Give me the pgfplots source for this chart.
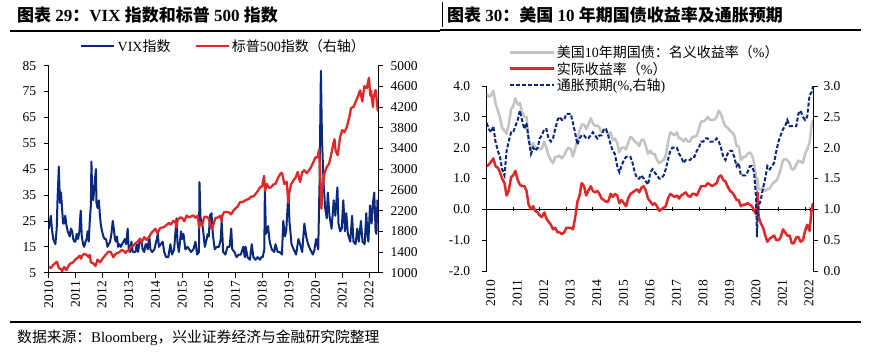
\documentclass[border=0pt]{standalone}
\usepackage{fontspec}
\setmainfont{Liberation Serif}
\newfontfamily\cjk{Noto Sans CJK SC}
\usepackage{pgfplots}
\pgfplotsset{compat=1.18}
\usepackage{pgfplotstable}
\definecolor{vixblue}{RGB}{10,40,125}
\definecolor{spred}{RGB}{225,40,40}
\definecolor{nomgray}{RGB}{195,195,195}
\newcommand{\zh}[1]{{\cjk #1}}

\pgfplotstableread{
x y
2010.00 22
2010.04 24
2010.08 27
2010.12 22
2010.17 18
2010.21 17
2010.25 16
2010.30 22
2010.33 33
2010.38 46
2010.42 32
2010.46 36
2010.50 30
2010.54 24
2010.58 24
2010.62 27
2010.67 23
2010.71 21
2010.75 20
2010.79 19
2010.83 22
2010.88 21
2010.92 18
2010.96 17
2011.00 17
2011.05 20
2011.10 18
2011.15 21
2011.20 29
2011.24 19
2011.29 16
2011.33 15
2011.38 17
2011.42 18
2011.46 21
2011.50 17
2011.54 25
2011.58 31
2011.60 48
2011.63 36
2011.67 33
2011.71 38
2011.75 43
2011.77 45
2011.79 32
2011.83 30
2011.88 33
2011.92 27
2011.96 23
2012.00 21
2012.05 19
2012.10 18
2012.15 18
2012.20 15
2012.25 16
2012.30 17
2012.35 20
2012.40 25
2012.44 22
2012.48 18
2012.52 17
2012.56 19
2012.60 15
2012.65 16
2012.70 15
2012.75 16
2012.80 17
2012.85 18
2012.90 16
2012.96 22
2013.00 14
2013.05 13
2013.10 17
2013.15 13
2013.20 13
2013.25 13
2013.30 16
2013.35 13
2013.42 18
2013.48 17
2013.52 14
2013.58 13
2013.63 16
2013.67 16
2013.71 14
2013.77 19
2013.81 14
2013.88 13
2013.96 14
2014.05 18
2014.09 20
2014.13 15
2014.20 16
2014.27 17
2014.33 13
2014.40 11
2014.48 11
2014.56 16
2014.62 12
2014.70 14
2014.79 26
2014.83 16
2014.88 13
2014.96 21
2015.00 18
2015.05 20
2015.12 14
2015.20 15
2015.27 14
2015.33 13
2015.42 14
2015.50 17
2015.56 12
2015.63 13
2015.65 40
2015.69 26
2015.75 24
2015.79 21
2015.85 15
2015.92 18
2015.96 20
2016.00 19
2016.04 27
2016.10 28
2016.15 20
2016.22 14
2016.30 15
2016.38 15
2016.45 18
2016.48 25
2016.54 13
2016.62 12
2016.70 15
2016.78 15
2016.84 22
2016.88 14
2016.96 13
2017.04 11
2017.12 12
2017.20 12
2017.29 15
2017.35 11
2017.38 15
2017.45 11
2017.54 10
2017.61 16
2017.67 11
2017.75 10
2017.83 11
2017.92 10
2017.96 11
2018.02 11
2018.08 14
2018.10 37
2018.14 20
2018.22 23
2018.28 17
2018.36 14
2018.45 13
2018.50 16
2018.58 13
2018.66 13
2018.74 12
2018.79 25
2018.85 19
2018.90 21
2018.95 30
2018.98 36
2019.02 25
2019.10 16
2019.18 14
2019.27 12
2019.36 18
2019.42 16
2019.50 13
2019.58 24
2019.65 19
2019.72 16
2019.80 14
2019.90 12
2019.96 14
2020.02 18
2020.10 14
2020.15 40
2020.20 83
2020.24 57
2020.30 40
2020.36 30
2020.42 26
2020.46 36
2020.52 27
2020.60 22
2020.68 33
2020.74 27
2020.82 38
2020.86 24
2020.92 21
2020.98 22
2021.04 33
2021.10 21
2021.15 28
2021.21 20
2021.30 17
2021.37 27
2021.42 17
2021.50 16
2021.56 22
2021.62 17
2021.70 25
2021.76 17
2021.84 16
2021.90 28
2021.95 19
2021.98 17
2022.04 31
2022.10 24
2022.15 32
2022.20 36
2022.25 21
2022.28 20
2022.32 33
2022.35 30
}\vixdata

\pgfplotstableread{
x y
2010.00 1115
2010.08 1090
2010.17 1150
2010.25 1187
2010.31 1210
2010.38 1090
2010.46 1070
2010.50 1030
2010.58 1110
2010.67 1050
2010.75 1141
2010.83 1183
2010.92 1200
2011.00 1258
2011.08 1286
2011.17 1330
2011.21 1270
2011.25 1326
2011.33 1363
2011.42 1345
2011.50 1300
2011.54 1345
2011.58 1200
2011.67 1180
2011.75 1131
2011.83 1253
2011.92 1200
2012.00 1258
2012.08 1312
2012.17 1366
2012.25 1408
2012.33 1398
2012.42 1300
2012.50 1362
2012.58 1379
2012.67 1407
2012.75 1441
2012.83 1412
2012.88 1380
2012.92 1416
2013.00 1426
2013.08 1498
2013.17 1515
2013.25 1569
2013.33 1598
2013.42 1660
2013.48 1580
2013.50 1606
2013.58 1686
2013.67 1633
2013.75 1682
2013.83 1757
2013.92 1806
2014.00 1848
2014.08 1760
2014.17 1859
2014.25 1872
2014.33 1884
2014.42 1924
2014.50 1960
2014.58 1931
2014.67 2003
2014.75 1972
2014.79 1870
2014.83 2018
2014.92 2068
2015.00 2059
2015.08 1995
2015.17 2105
2015.25 2068
2015.33 2086
2015.42 2107
2015.50 2063
2015.58 2104
2015.64 1870
2015.67 1972
2015.75 1920
2015.83 2079
2015.92 2080
2016.00 2044
2016.08 1880
2016.12 1840
2016.17 1932
2016.25 2060
2016.33 2065
2016.42 2097
2016.48 2000
2016.50 2099
2016.58 2174
2016.67 2171
2016.75 2168
2016.83 2126
2016.92 2199
2017.00 2239
2017.08 2279
2017.17 2364
2017.25 2363
2017.33 2384
2017.42 2412
2017.50 2423
2017.58 2470
2017.67 2472
2017.75 2519
2017.83 2575
2017.92 2648
2018.00 2674
2018.07 2870
2018.11 2580
2018.17 2714
2018.25 2641
2018.33 2648
2018.42 2705
2018.50 2718
2018.58 2816
2018.67 2902
2018.72 2930
2018.75 2914
2018.83 2712
2018.92 2760
2018.98 2350
2019.00 2507
2019.08 2704
2019.17 2784
2019.25 2834
2019.33 2946
2019.42 2752
2019.50 2942
2019.58 2980
2019.67 2926
2019.75 2977
2019.83 3038
2019.92 3141
2020.00 3231
2020.08 3226
2020.13 3380
2020.17 2954
2020.22 2237
2020.25 2585
2020.33 2912
2020.42 3044
2020.50 3100
2020.58 3271
2020.67 3500
2020.71 3580
2020.75 3363
2020.83 3270
2020.92 3622
2021.00 3756
2021.08 3714
2021.17 3811
2021.25 3973
2021.33 4181
2021.42 4204
2021.50 4298
2021.58 4395
2021.67 4523
2021.75 4308
2021.83 4605
2021.92 4567
2022.00 4766
2022.05 4420
2022.08 4516
2022.15 4200
2022.17 4374
2022.25 4530
2022.30 4300
2022.33 4132
2022.36 4150
}\spxdata

\pgfplotstableread{
x nom real be
2010.00 3.75 1.40 2.40
2010.08 3.65 1.45 2.30
2010.17 3.70 1.55 2.25
2010.25 3.85 1.65 2.35
2010.33 3.45 1.40 2.10
2010.42 3.20 1.35 1.95
2010.50 3.00 1.20 1.85
2010.58 2.65 1.00 1.65
2010.67 2.55 0.85 1.55
2010.75 2.45 0.45 1.95
2010.83 2.75 0.60 2.10
2010.92 3.25 1.05 2.25
2011.00 3.35 1.10 2.25
2011.08 3.60 1.25 2.35
2011.17 3.40 0.95 2.45
2011.25 3.45 0.80 2.60
2011.33 3.15 0.75 2.45
2011.42 3.00 0.75 2.30
2011.50 3.00 0.60 2.40
2011.58 2.25 0.15 2.15
2011.67 1.95 0.00 1.90
2011.75 2.15 0.10 2.00
2011.83 2.00 -0.05 1.95
2011.92 1.95 -0.10 2.00
2012.00 1.95 -0.20 2.15
2012.08 1.98 -0.25 2.20
2012.17 2.20 -0.10 2.30
2012.25 2.00 -0.30 2.30
2012.33 1.75 -0.40 2.15
2012.42 1.60 -0.50 2.10
2012.50 1.50 -0.65 2.15
2012.58 1.70 -0.60 2.30
2012.67 1.70 -0.75 2.45
2012.75 1.75 -0.75 2.50
2012.83 1.65 -0.80 2.45
2012.92 1.75 -0.75 2.45
2013.00 1.90 -0.60 2.55
2013.08 2.00 -0.60 2.55
2013.17 1.95 -0.60 2.55
2013.25 1.72 -0.65 2.40
2013.33 1.95 -0.30 2.25
2013.42 2.25 0.25 2.05
2013.50 2.55 0.45 2.15
2013.58 2.75 0.85 2.20
2013.67 2.75 0.75 2.20
2013.75 2.60 0.45 2.15
2013.83 2.75 0.60 2.15
2013.92 2.95 0.75 2.20
2014.00 2.80 0.60 2.25
2014.08 2.70 0.55 2.20
2014.17 2.72 0.60 2.15
2014.25 2.65 0.50 2.20
2014.33 2.50 0.35 2.20
2014.42 2.60 0.30 2.30
2014.50 2.55 0.25 2.30
2014.58 2.40 0.25 2.20
2014.67 2.50 0.50 2.05
2014.75 2.25 0.40 1.95
2014.83 2.30 0.50 1.90
2014.92 2.15 0.45 1.70
2015.00 1.85 0.20 1.60
2015.08 2.00 0.30 1.70
2015.17 2.00 0.20 1.80
2015.25 1.95 0.10 1.85
2015.33 2.15 0.35 1.85
2015.42 2.35 0.50 1.85
2015.50 2.30 0.55 1.75
2015.58 2.20 0.60 1.60
2015.67 2.15 0.65 1.50
2015.75 2.05 0.55 1.50
2015.83 2.25 0.70 1.55
2015.92 2.25 0.75 1.50
2016.00 2.05 0.60 1.45
2016.08 1.80 0.35 1.40
2016.17 1.90 0.25 1.60
2016.25 1.80 0.15 1.65
2016.33 1.80 0.20 1.60
2016.42 1.60 0.10 1.55
2016.50 1.50 -0.05 1.50
2016.58 1.55 0.00 1.50
2016.67 1.60 0.05 1.55
2016.75 1.75 0.10 1.65
2016.83 2.15 0.35 1.80
2016.92 2.50 0.50 1.95
2017.00 2.45 0.45 2.00
2017.08 2.40 0.40 2.00
2017.17 2.50 0.45 2.00
2017.25 2.30 0.35 1.90
2017.33 2.30 0.45 1.85
2017.42 2.20 0.50 1.75
2017.50 2.30 0.55 1.80
2017.58 2.20 0.45 1.80
2017.67 2.20 0.40 1.80
2017.75 2.35 0.50 1.85
2017.83 2.35 0.50 1.85
2017.92 2.40 0.45 1.95
2018.00 2.60 0.60 2.00
2018.08 2.85 0.75 2.10
2018.17 2.85 0.75 2.10
2018.25 2.90 0.75 2.15
2018.33 3.00 0.85 2.15
2018.42 2.90 0.80 2.10
2018.50 2.90 0.75 2.10
2018.58 2.90 0.80 2.10
2018.67 3.00 0.85 2.15
2018.75 3.20 1.05 2.10
2018.83 3.10 1.10 2.00
2018.92 2.85 0.95 1.85
2019.00 2.70 0.90 1.80
2019.08 2.65 0.75 1.90
2019.17 2.55 0.60 1.95
2019.25 2.50 0.55 1.95
2019.33 2.40 0.45 1.85
2019.42 2.05 0.30 1.70
2019.50 2.05 0.30 1.75
2019.58 1.60 0.10 1.55
2019.67 1.70 0.15 1.55
2019.75 1.70 0.15 1.55
2019.83 1.80 0.20 1.60
2019.92 1.85 0.15 1.70
2020.00 1.75 0.10 1.70
2020.08 1.50 -0.05 1.60
2020.15 1.10 -0.15 1.20
2020.19 0.60 0.20 0.55
2020.21 1.00 0.55 0.90
2020.25 0.65 -0.25 1.05
2020.33 0.65 -0.45 1.15
2020.42 0.70 -0.60 1.35
2020.50 0.60 -0.85 1.50
2020.58 0.65 -1.05 1.70
2020.67 0.68 -0.95 1.65
2020.75 0.80 -0.90 1.70
2020.83 0.88 -0.85 1.75
2020.92 0.93 -1.00 1.95
2021.00 1.08 -1.00 2.10
2021.08 1.30 -0.90 2.20
2021.17 1.60 -0.65 2.30
2021.25 1.63 -0.75 2.35
2021.33 1.60 -0.85 2.45
2021.42 1.50 -0.85 2.35
2021.50 1.30 -1.10 2.35
2021.58 1.30 -1.10 2.35
2021.67 1.45 -0.90 2.35
2021.75 1.58 -0.90 2.55
2021.83 1.55 -1.05 2.60
2021.92 1.50 -1.00 2.50
2022.00 1.80 -0.70 2.45
2022.08 1.95 -0.50 2.50
2022.17 2.15 -0.70 2.85
2022.25 2.75 0.00 2.90
2022.30 2.90 0.20 3.00
}\ratedata

\pgfplotsset{
  base/.style={
    scale only axis, anchor=south west,
    xtick={2010,...,2022},
    tick style={black, line width=0.7pt},
    major tick length=5pt,
    tick align=outside,
    axis line style={black, line width=0.8pt, -},
    x axis line style={-}, y axis line style={-},
    ticklabel style={font=\fontsize{13.5}{14}\selectfont},
    /pgf/number format/assume math mode=true,
    /pgf/number format/1000 sep={},
    xticklabel style={rotate=90, anchor=east},
  },
}

\begin{document}
\begin{tikzpicture}[x=1pt,y=1pt]
\path[use as bounding box] (0,0) rectangle (873,351);
\fill[white] (0,0) rectangle (873,351);

% titles and rules
\node[anchor=west, inner sep=0pt, font=\fontsize{17}{18}\selectfont\bfseries] at (17,336)
  {\zh{图表} 29\zh{：}VIX \zh{指数和标普} 500 \zh{指数}};
\node[anchor=west, inner sep=0pt, font=\fontsize{17}{18}\selectfont\bfseries] at (447,336)
  {\zh{图表} 30\zh{：美国} 10 \zh{年期国债收益率及通胀预期}};
\draw[line width=1.2pt] (10,320) -- (440,320);
\draw[line width=1.2pt] (440,321) -- (861,321);
\draw[line width=1.2pt] (442.5,349) -- (442.5,324);
\draw[line width=1.2pt] (10,29) -- (861,29);
\node[anchor=west, inner sep=0pt, font=\fontsize{14.8}{16}\selectfont] at (17,13)
  {\zh{数据来源：}Bloomberg\zh{，兴业证券经济与金融研究院整理}};

% ---------- left chart ----------
\begin{axis}[base, at={(48.7pt,78.3pt)}, width=329.3pt, height=207pt,
  xmin=2010, xmax=2022.34, ymin=5, ymax=85, ytick={5,15,...,85},
  axis x line*=bottom, axis y line*=left,
  yticklabel style={xshift=-4pt}]
\addplot[vixblue, line width=2pt, line join=round] table[x=x,y=y] {\vixdata};
\end{axis}
\begin{axis}[base, at={(48.7pt,78.3pt)}, width=329.3pt, height=207pt,
  xmin=2010, xmax=2022.34, ymin=1000, ymax=5000, ytick={1000,1400,...,5000},
  axis x line=none, axis y line*=right,
  yticklabel style={xshift=4pt},
  legend columns=2,
  legend style={at={(axis description cs:0.095,1.095)}, anchor=west, draw=none, fill=none,
    font=\fontsize{14}{16}\selectfont, inner sep=0pt,
    /tikz/every even column/.append style={column sep=22pt}},
  legend image code/.code={\draw[#1] (0pt,0pt) -- (33pt,0pt);}]
\addlegendimage{vixblue, line width=2.5pt}
\addlegendentry{VIX\zh{指数}}
\addplot[spred, line width=2.3pt, line join=round] table[x=x,y=y] {\spxdata};
\addlegendentry{\zh{标普}500\zh{指数（右轴）}}
\end{axis}

% ---------- right chart ----------
\begin{axis}[base, at={(486.7pt,80pt)}, width=326.3pt, height=185pt,
  xmin=2010, xmax=2022.3, ymin=-2, ymax=4,
  axis x line=middle, axis y line=none, xticklabels={}, major tick length=4pt]
\end{axis}
\begin{axis}[base, at={(486.7pt,80pt)}, width=326.3pt, height=185pt,
  xmin=2010, xmax=2022.3, ymin=-2, ymax=4, ytick={-2,-1,...,4},
  axis x line*=bottom, axis y line*=left,
  x axis line style={draw=none}, xtick style={draw=none},
  xticklabel style={yshift=-4pt},
  yticklabel style={xshift=-8pt, /pgf/number format/.cd, fixed, fixed zerofill, precision=1}]
\addplot[nomgray, line width=2.5pt, line join=round] table[x=x,y=nom] {\ratedata};
\addplot[spred, line width=2.5pt, line join=round] table[x=x,y=real] {\ratedata};
\end{axis}
\begin{axis}[base, at={(486.7pt,80pt)}, width=326.3pt, height=185pt,
  xmin=2010, xmax=2022.3, ymin=0, ymax=3, ytick={0,0.5,...,3},
  axis x line=none, axis y line*=right,
  yticklabel style={xshift=2pt, /pgf/number format/.cd, fixed, fixed zerofill, precision=1},
  legend style={at={(axis description cs:0.065,1.23)}, anchor=north west, draw=none, fill=none,
    font=\fontsize{14}{16}\selectfont, inner sep=0pt, row sep=-1pt},
  legend cell align=left,
  legend image code/.code={\draw[#1] (0pt,0pt) -- (44pt,0pt);}]
\addlegendimage{nomgray, line width=2.5pt}
\addlegendentry{\zh{美国}10\zh{年期国债：名义收益率（}\%\zh{）}}
\addlegendimage{spred, line width=2.8pt}
\addlegendentry{\zh{实际收益率（}\%\zh{）}}
\addplot[vixblue, line width=2pt, dash pattern=on 4pt off 2pt] table[x=x,y=be] {\ratedata};
\addlegendentry{\zh{通胀预期}(\%,\zh{右轴})}
\end{axis}
\end{tikzpicture}
\end{document}
